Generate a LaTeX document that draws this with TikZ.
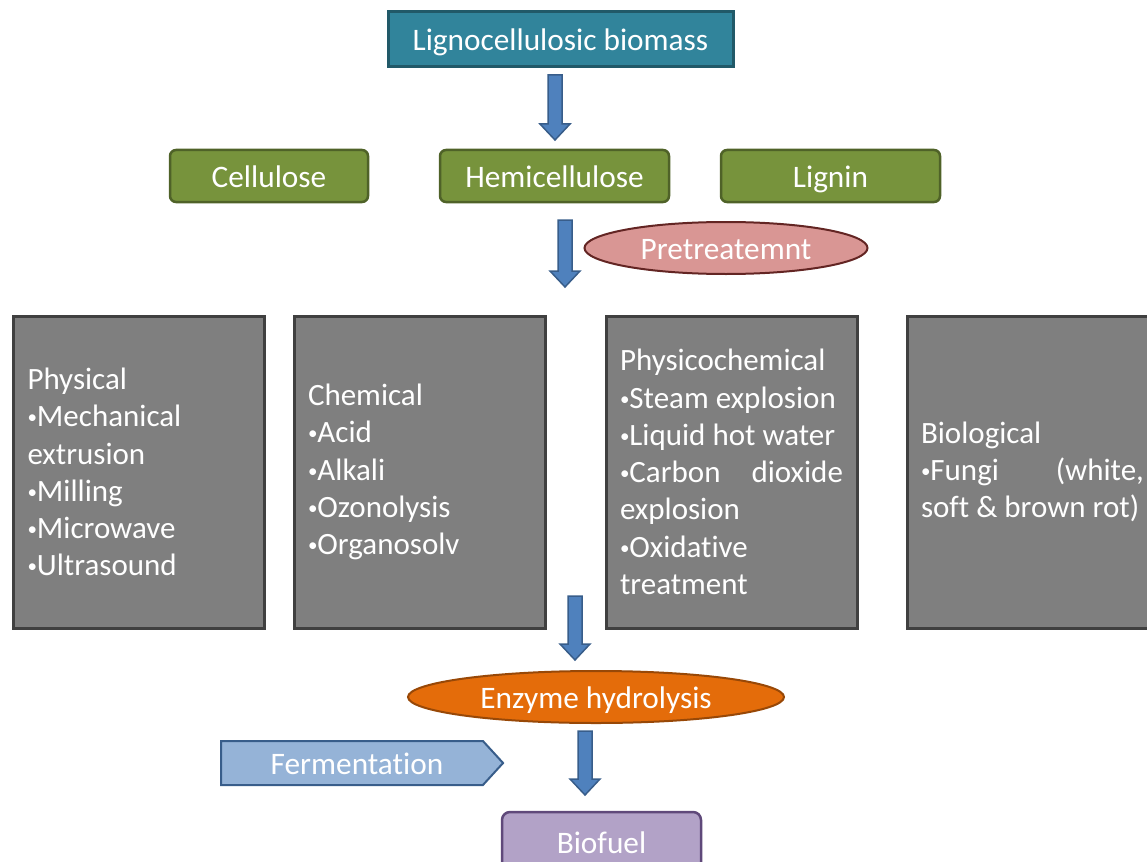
\documentclass[tikz,border=0pt]{standalone}
\usepackage{fontspec}
\setmainfont[Ligatures={NoCommon}]{Carlito}
\usetikzlibrary{shapes.geometric,shapes.symbols,calc}
\definecolor{tealbox}{HTML}{31849B}
\definecolor{tealline}{HTML}{215968}
\definecolor{greenbox}{HTML}{77933C}
\definecolor{greenline}{HTML}{4F6228}
\definecolor{pinkbox}{HTML}{D99694}
\definecolor{pinkline}{HTML}{632523}
\definecolor{graybox}{HTML}{7F7F7F}
\definecolor{grayline}{HTML}{404040}
\definecolor{orangebox}{HTML}{E46C0A}
\definecolor{orangeline}{HTML}{984807}
\definecolor{bluefill}{HTML}{4F81BD}
\definecolor{blueline}{HTML}{385D8A}
\definecolor{lightblue}{HTML}{95B3D7}
\definecolor{purplebox}{HTML}{B2A2C7}
\definecolor{purpleline}{HTML}{5F497A}

\newcommand{\bul}{\raisebox{3pt}{\fontsize{19}{19}\selectfont •}}
\newcommand{\blockdown}[2]{%
  \filldraw[fill=bluefill, draw=blueline, line width=1.5pt, line join=miter]
    ($(#1)+(-7,0)$) -- ($(#2)+(-7,-16)$) -- ($(#2)+(-15,-16)$) -- (#2)
    -- ($(#2)+(15,-16)$) -- ($(#2)+(7,-16)$) -- ($(#1)+(7,0)$) -- cycle;}

\tikzset{
  label text/.style={text=white, inner sep=0pt, text height=22pt, text depth=0pt,
    font=\fontsize{31.3}{37}\selectfont},
  headbox/.style={label text, fill=tealbox, draw=tealline, line width=3pt,
    minimum width=345, minimum height=55},
  partbox/.style={label text, fill=greenbox, draw=greenline, line width=2.5pt,
    rounded corners=6pt, minimum height=52},
  methodbox/.style={text=white, inner sep=0pt, fill=graybox, draw=grayline,
    line width=3pt, minimum width=251, minimum height=312, text width=223,
    align=flush left, font=\fontsize{31}{37.3}\selectfont},
  stepoval/.style={label text, ellipse, line width=2pt, minimum height=52}
}

\begin{document}
\begin{tikzpicture}[x=1pt, y=-1pt]
  \useasboundingbox (0,0) rectangle (1147,861);

  \node[headbox] (lig) at (560.5,39.5) {Lignocellulosic biomass};

  \node[partbox, minimum width=198] (cell) at (269,176) {Cellulose};
  \node[partbox, minimum width=229] (hemi) at (554.5,176) {Hemicellulose};
  \node[partbox, minimum width=219] (lign) at (830.5,176) {Lignin};

  \node[stepoval, fill=pinkbox, draw=pinkline, minimum width=283] (pre) at (726,248) {Pretreatemnt};

  \node[methodbox] (phys) at (139,472) {Physical\\
    \bul Mechanical\\ extrusion\\ \bul Milling\\ \bul Microwave\\ \bul Ultrasound};
  \node[methodbox] (chem) at (419.5,472) {Chemical\\
    \bul Acid\\ \bul Alkali\\ \bul Ozonolysis\\ \bul Organosolv};
  \node[methodbox] (pchem) at (731.5,472) {Physicochemical\\
    \bul Steam explosion\\ \bul Liquid hot water\\ \bul Carbon\hfill dioxide\\
    explosion\\ \bul Oxidative\\ treatment};
  \node[methodbox] (bio) at (1032.5,472) {Biological\\
    \bul Fungi\hfill(white,\\ soft \& brown rot)};

  \node[stepoval, fill=orangebox, draw=orangeline, minimum width=376] (enz) at (596,697) {Enzyme hydrolysis};

  \node[label text, signal, signal to=east, signal from=nowhere, signal pointer angle=95,
        fill=lightblue, draw=blueline, line width=2pt,
        minimum width=282, minimum height=44] (ferm) at (352,763) {\hspace*{10pt}Fermentation};

  \node[label text, fill=purplebox, draw=purpleline, line width=2.5pt, rounded corners=8pt,
        minimum width=199, minimum height=60] (fuel) at (601.5,842) {Biofuel};

  \coordinate (a1s) at (555,75);  \coordinate (a1e) at (555,140);
  \coordinate (a2s) at (565,220); \coordinate (a2e) at (565,287);
  \coordinate (a3s) at (575,596); \coordinate (a3e) at (575,660);
  \coordinate (a4s) at (585,731); \coordinate (a4e) at (585,795);
  \blockdown{a1s}{a1e}
  \blockdown{a2s}{a2e}
  \blockdown{a3s}{a3e}
  \blockdown{a4s}{a4e}
\end{tikzpicture}
\end{document}
